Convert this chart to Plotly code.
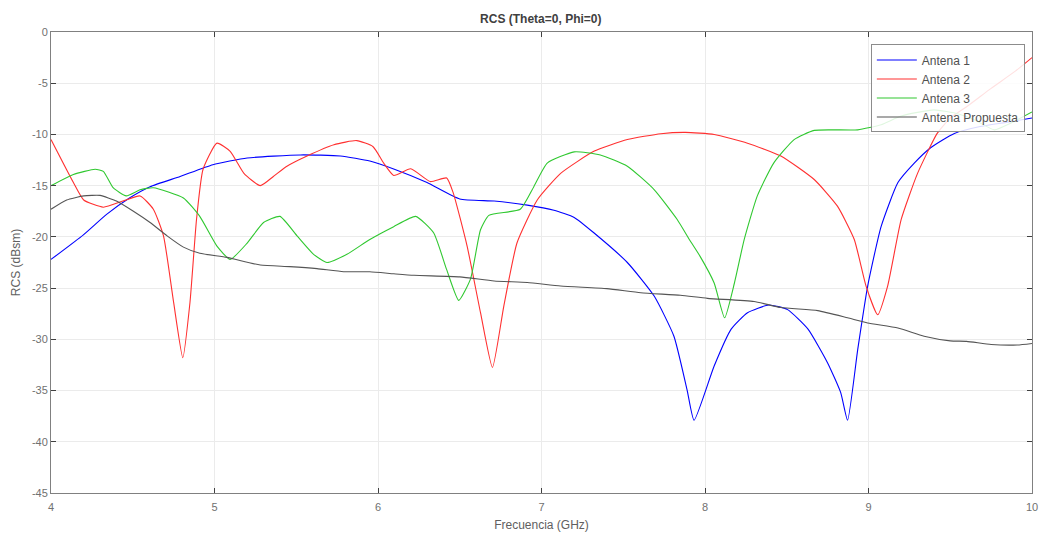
import plotly.graph_objects as go

# Antena 1 (blue)
a1_x = [4.0, 4.198, 4.34, 4.48, 4.606, 4.79, 4.99, 5.2, 5.525, 5.77, 5.95, 6.10, 6.30, 6.50, 6.71, 6.913, 7.076, 7.2, 7.32, 7.525, 7.69, 7.81, 7.89, 7.933, 8.056, 8.16, 8.26, 8.39, 8.505, 8.63, 8.75, 8.83, 8.872, 8.934, 8.995, 9.077, 9.18, 9.28, 9.38, 9.525, 9.69, 9.85, 10.0]
a1_y = [-22.2, -19.8, -17.8, -16.2, -15.1, -14.1, -12.95, -12.3, -12.0, -12.1, -12.6, -13.4, -14.7, -16.3, -16.5, -16.9, -17.4, -18.1, -19.6, -22.5, -25.8, -29.7, -34.9, -37.9, -32.6, -29.0, -27.4, -26.65, -27.1, -29.0, -32.3, -35.2, -37.9, -31.0, -24.8, -19.0, -14.7, -12.8, -11.3, -9.9, -9.2, -8.8, -8.4]

# Antena 2 (red)
a2_x = [4.0, 4.137, 4.2, 4.32, 4.44, 4.545, 4.626, 4.688, 4.75, 4.806, 4.85, 4.89, 4.93, 5.015, 5.096, 5.18, 5.28, 5.36, 5.443, 5.566, 5.73, 5.87, 5.97, 6.035, 6.096, 6.2, 6.32, 6.42, 6.46, 6.545, 6.627, 6.70, 6.77, 6.85, 6.974, 7.117, 7.32, 7.525, 7.73, 7.88, 8.056, 8.26, 8.464, 8.668, 8.81, 8.913, 8.985, 9.056, 9.117, 9.2, 9.30, 9.42, 9.5, 9.6, 9.75, 9.9, 10.0]
a2_y = [-10.5, -14.7, -16.4, -17.1, -16.5, -16.0, -17.3, -19.9, -26.4, -31.8, -26.4, -18.3, -13.4, -10.85, -11.65, -13.8, -15.0, -14.1, -13.1, -12.1, -11.0, -10.6, -11.2, -12.8, -14.0, -13.35, -14.6, -14.25, -15.7, -20.9, -27.4, -32.75, -26.7, -20.6, -16.4, -13.8, -11.65, -10.5, -9.93, -9.8, -10.0, -10.85, -12.1, -14.4, -17.0, -20.25, -24.8, -27.6, -24.8, -18.3, -13.8, -9.9, -8.4, -7.3, -5.5, -3.8, -2.5]

# Antena 3 (green)
a3_x = [4.0, 4.137, 4.27, 4.32, 4.38, 4.46, 4.545, 4.626, 4.81, 4.91, 5.015, 5.096, 5.2, 5.3, 5.40, 5.505, 5.606, 5.688, 5.81, 5.95, 6.096, 6.23, 6.34, 6.42, 6.494, 6.566, 6.627, 6.678, 6.87, 6.953, 7.035, 7.2, 7.36, 7.525, 7.69, 7.83, 7.91, 7.97, 8.056, 8.12, 8.18, 8.24, 8.32, 8.42, 8.545, 8.668, 8.934, 9.077, 9.2, 9.4, 9.55, 9.65, 9.77, 9.87, 10.0]
a3_y = [-15.0, -13.9, -13.4, -13.6, -15.2, -16.0, -15.4, -15.2, -16.2, -18.0, -20.9, -22.2, -20.6, -18.6, -18.0, -19.9, -21.7, -22.5, -21.7, -20.25, -19.0, -18.0, -19.6, -23.2, -26.2, -24.1, -19.3, -17.9, -17.3, -15.1, -12.8, -11.7, -12.0, -13.1, -15.4, -18.3, -20.4, -21.9, -24.5, -27.9, -24.5, -20.25, -16.0, -12.8, -10.5, -9.6, -9.55, -9.05, -8.2, -7.6, -8.0, -8.6, -9.55, -8.9, -7.8]

# Antena Propuesta (dark gray)
ap_x = [4.0, 4.096, 4.2, 4.3, 4.40, 4.504, 4.606, 4.71, 4.81, 4.91, 5.076, 5.28, 5.46, 5.627, 5.79, 5.95, 6.096, 6.22, 6.50, 6.71, 6.913, 7.117, 7.40, 7.607, 7.85, 8.015, 8.30, 8.464, 8.69, 8.872, 8.995, 9.18, 9.34, 9.5, 9.6, 9.75, 9.91, 10.0]
ap_y = [-17.3, -16.4, -16.0, -15.95, -16.5, -17.5, -18.6, -19.9, -21.0, -21.6, -22.0, -22.75, -22.9, -23.1, -23.4, -23.4, -23.6, -23.75, -23.9, -24.3, -24.45, -24.8, -25.05, -25.45, -25.7, -26.0, -26.3, -26.9, -27.2, -27.9, -28.4, -28.9, -29.7, -30.15, -30.2, -30.5, -30.55, -30.4]

x_ticks = [4, 5, 6, 7, 8, 9, 10]
y_ticks = [0, -5, -10, -15, -20, -25, -30, -35, -40, -45]

FONT = "Liberation Sans, Arial, sans-serif"

fig = go.Figure()
series = [
    ("Antena 1", a1_x, a1_y, "#0000ff"),
    ("Antena 2", a2_x, a2_y, "#ff3030"),
    ("Antena 3", a3_x, a3_y, "#30c830"),
    ("Antena Propuesta", ap_x, ap_y, "#555555"),
]
for name, xs, ys, col in series:
    fig.add_trace(go.Scatter(x=xs, y=ys, mode="lines", name=name,
                             line=dict(color=col, width=1.1, shape="spline", smoothing=0.5)))

axis_common = dict(showline=True, linecolor="#808080", linewidth=1, mirror="ticks",
                   ticks="inside", ticklen=5, tickcolor="#404040", tickwidth=1,
                   showgrid=True, gridcolor="#ebebeb", gridwidth=1, zeroline=False,
                   automargin=False,
                   tickfont=dict(family=FONT, size=11, color="#707070"))

fig.update_layout(
    width=1040, height=537,
    margin=dict(l=51, r=8, t=32, b=44, autoexpand=False),
    paper_bgcolor="white", plot_bgcolor="white",
    title=dict(text="<b>RCS (Theta=0, Phi=0)</b>", x=0.52, xanchor="center", y=0.965, yanchor="middle",
               font=dict(family=FONT, size=12, color="#404040")),
    xaxis=dict(range=[4, 10], tickvals=x_ticks, ticktext=[str(v) for v in x_ticks],
               ticklabelstandoff=4,
               title=dict(text="Frecuencia (GHz)", standoff=8,
                          font=dict(family=FONT, size=12, color="#606060")),
               **axis_common),
    yaxis=dict(range=[-45, 0], tickvals=y_ticks, ticktext=[str(v) for v in y_ticks],
               title=dict(text="RCS (dBsm)", standoff=8,
                          font=dict(family=FONT, size=12, color="#606060")),
               **axis_common),
    legend=dict(x=0.9927, xanchor="right", y=0.973, yanchor="top",
                bgcolor="rgba(255,255,255,0.85)", bordercolor="#8c8c8c", borderwidth=1,
                font=dict(family=FONT, size=12, color="#505050"),
                tracegroupgap=0, itemwidth=40),
    showlegend=True,
)

fig.write_html("out.html", config={"displayModeBar": False},
               post_script="document.body.style.margin='0';document.body.style.overflow='hidden';")
